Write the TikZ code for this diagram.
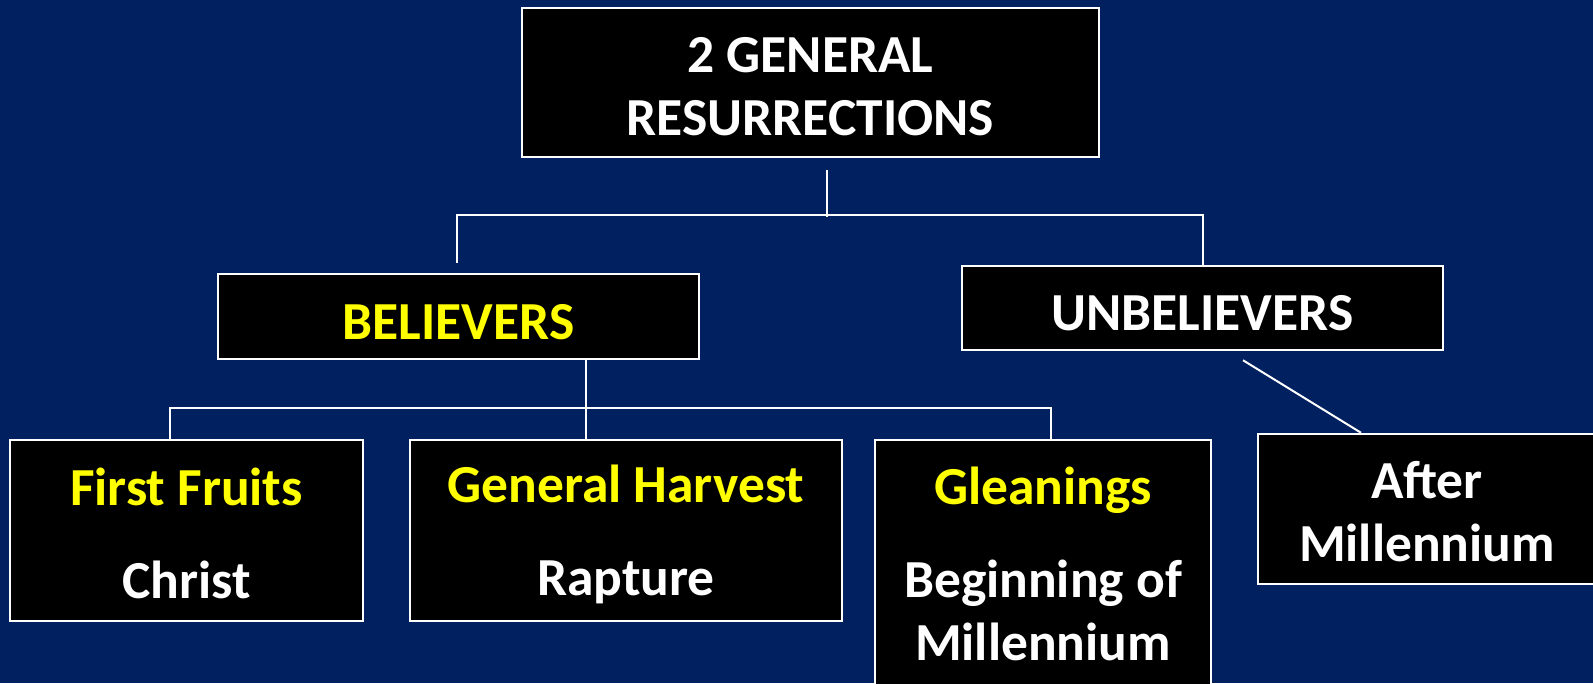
\documentclass[tikz,border=0pt]{standalone}
\usepackage{fontspec}
\setmainfont{Carlito}
\usetikzlibrary{positioning}
\definecolor{navy}{RGB}{0,32,96}
\definecolor{gold}{RGB}{255,255,0}
\newcommand\topstrut{\rule{0pt}{46pt}}
\newcommand\botstrut[1][4pt]{\rule[-#1]{0pt}{#1}}
\newcommand\onestrut{\rule[-1pt]{0pt}{47pt}}
\tikzset{
  box/.style={draw=white, line width=2.5pt, fill=black, text=white, align=center,
    inner sep=0pt, font=\fontsize{53.5}{63}\selectfont\bfseries},
  link/.style={draw=white, line width=2pt},
}

\begin{document}
\begin{tikzpicture}[x=1pt,y=-1pt]

\fill[navy] (0,0) rectangle (1593,683);
\useasboundingbox (0,0) rectangle (1593,683);

% top
\node[box, minimum width=577pt, minimum height=149pt] (general) at (810.5,82.5) {\topstrut 2 GENERAL\\RESURRECTIONS\botstrut};

% second row
\node[box, minimum width=481pt, minimum height=85pt, text=gold] (believers) at (458.5,316.5) {\onestrut BELIEVERS};
\node[box, minimum width=481pt, minimum height=84pt] (unbelievers) at (1202.5,308) {\onestrut UNBELIEVERS};

% third row
\node[box, minimum width=353pt, minimum height=181pt] (fruits) at (186.5,530.5) {\topstrut{\color{gold}First Fruits}\\[30pt]Christ\botstrut};
\node[box, minimum width=432pt, minimum height=181pt] (harvest) at (626,530.5) {\topstrut{\color{gold}General Harvest}\\[30pt]Rapture\botstrut[8pt]};
\node[box, minimum width=336pt, minimum height=250pt] (gleanings) at (1043,565) {\topstrut{\color{gold}Gleanings}\\[30pt]Beginning of\\Millennium\botstrut[12pt]};
\node[box, minimum width=338pt, minimum height=150pt] (after) at (1427,509) {\topstrut After\\Millennium\botstrut};

% connectors
\draw[link] ([xshift=16.5pt,yshift=-12pt]general.south) -- ++(0,47);
\draw[link] ([xshift=-1.5pt,yshift=10pt]believers.north) -- ++(0,-48) -| (unbelievers.north);
\draw[link] ([xshift=127.5pt]believers.south) -- ([xshift=127.5pt]believers.south |- harvest.north);
\draw[link] ([xshift=-16.5pt]fruits.north) -- ++(0,-31) -| ([xshift=8pt]gleanings.north);
\draw[link] ([xshift=40.5pt,yshift=-9pt]unbelievers.south) -- ([xshift=-66pt]after.north);

\end{tikzpicture}
\end{document}
